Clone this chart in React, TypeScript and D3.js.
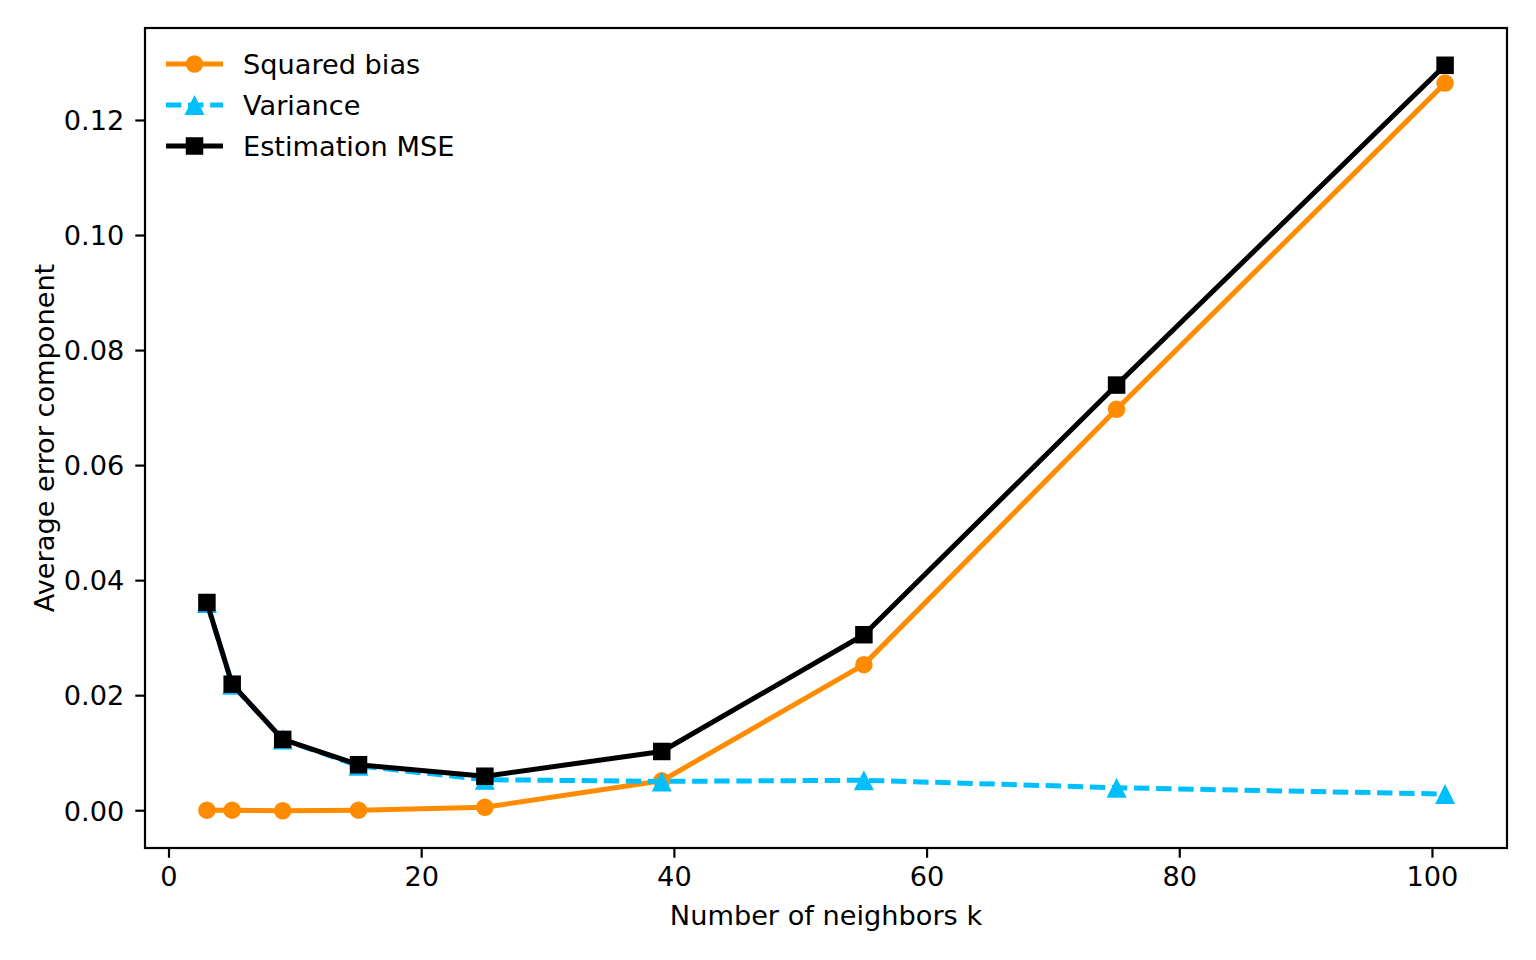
import React from "react";
import * as d3 from "d3";

const kValues = [3, 5, 9, 15, 25, 39, 55, 75, 101];
const squaredBias = [0.0001, 0.0001, 0.0, 0.0001, 0.0006, 0.0052, 0.0254, 0.0698, 0.1265];
const variance = [0.0361, 0.0219, 0.0124, 0.0078, 0.0054, 0.0051, 0.0053, 0.004, 0.0029];
const mse = [0.0362, 0.022, 0.0124, 0.008, 0.006, 0.0103, 0.0306, 0.074, 0.1296];
const xTicks = [0, 20, 40, 60, 80, 100];
const yTicks = [0, 0.02, 0.04, 0.06, 0.08, 0.1, 0.12];

const W = 1536;
const H = 960;
const L = 145, R = 1507, T = 28, B = 848;
const FS = 27.2;
const FONT = "'DejaVu Sans', sans-serif";
const LW = 5;

export default function App() {
  const x = d3.scaleLinear().domain([-1.9, 105.9]).range([L, R]);
  const y = d3.scaleLinear().domain([-0.00648, 0.13608]).range([B, T]);
  const line = d3
    .line<number>()
    .x((_, i) => x(kValues[i]))
    .y((d) => y(d));

  const ms = 17.5;
  const triSize = 20;
  const tri = (cx: number, cy: number, s: number) => {
    const r = s / 2;
    return `M${cx},${cy - r}L${cx + r},${cy + r}L${cx - r},${cy + r}Z`;
  };

  const legendItems = [
    { label: "Squared bias", color: "#ff8c00", marker: "circle", dash: undefined },
    { label: "Variance", color: "#00bfff", marker: "tri", dash: "15.4,6.7" },
    { label: "Estimation MSE", color: "#000000", marker: "square", dash: undefined },
  ];

  const marker = (m: string, cx: number, cy: number, color: string, key: any) => {
    if (m === "circle") return <circle key={key} cx={cx} cy={cy} r={ms / 2} fill={color} />;
    if (m === "square")
      return <rect key={key} x={cx - ms / 2} y={cy - ms / 2} width={ms} height={ms} fill={color} />;
    return <path key={key} d={tri(cx, cy, triSize)} fill={color} />;
  };

  return (
    <svg
      width={W}
      height={H}
      style={{ position: "absolute", left: 0, top: 0, background: "#fff" }}
      fontFamily={FONT}
    >
      <rect x={0} y={0} width={W} height={H} fill="#fff" />
      <defs>
        <clipPath id="plot">
          <rect x={L} y={T} width={R - L} height={B - T} />
        </clipPath>
      </defs>
      <g clipPath="url(#plot)">
        <path d={line(squaredBias) || ""} fill="none" stroke="#ff8c00" strokeWidth={LW} strokeLinejoin="round" />
        {squaredBias.map((v, i) => marker("circle", x(kValues[i]), y(v), "#ff8c00", "b" + i))}
        <path
          d={line(variance) || ""}
          fill="none"
          stroke="#00bfff"
          strokeWidth={LW}
          strokeDasharray="15.4,6.7"
        />
        {variance.map((v, i) => marker("tri", x(kValues[i]), y(v), "#00bfff", "v" + i))}
        <path d={line(mse) || ""} fill="none" stroke="#000" strokeWidth={LW} strokeLinejoin="round" />
        {mse.map((v, i) => marker("square", x(kValues[i]), y(v), "#000", "m" + i))}
      </g>
      <rect x={L} y={T} width={R - L} height={B - T} fill="none" stroke="#000" strokeWidth={2.2} />
      {xTicks.map((t) => (
        <g key={"xt" + t}>
          <line x1={x(t)} x2={x(t)} y1={B} y2={B + 9.7} stroke="#000" strokeWidth={2.2} />
          <text x={x(t)} y={886} textAnchor="middle" fontSize={FS}>
            {String(t)}
          </text>
        </g>
      ))}
      {yTicks.map((t) => (
        <g key={"yt" + t}>
          <line x1={L - 9.7} x2={L} y1={y(t)} y2={y(t)} stroke="#000" strokeWidth={2.2} />
          <text x={L - 9.7 - 11} y={y(t) + 0.36 * FS} textAnchor="end" fontSize={FS}>
            {t.toFixed(2)}
          </text>
        </g>
      ))}
      <text x={(L + R) / 2} y={925} textAnchor="middle" fontSize={FS}>
        Number of neighbors k
      </text>
      <text
        transform={`translate(54,${(T + B) / 2}) rotate(-90)`}
        textAnchor="middle"
        fontSize={FS}
      >
        Average error component
      </text>
      {legendItems.map((it, i) => {
        const cy = 64 + i * 41;
        return (
          <g key={"lg" + i}>
            <line
              x1={166}
              x2={223}
              y1={cy}
              y2={cy}
              stroke={it.color}
              strokeWidth={LW}
              strokeDasharray={it.dash}
            />
            {marker(it.marker, 194.5, cy, it.color, "lm" + i)}
            <text x={243} y={cy + 0.36 * FS} fontSize={FS}>
              {it.label}
            </text>
          </g>
        );
      })}
    </svg>
  );
}
